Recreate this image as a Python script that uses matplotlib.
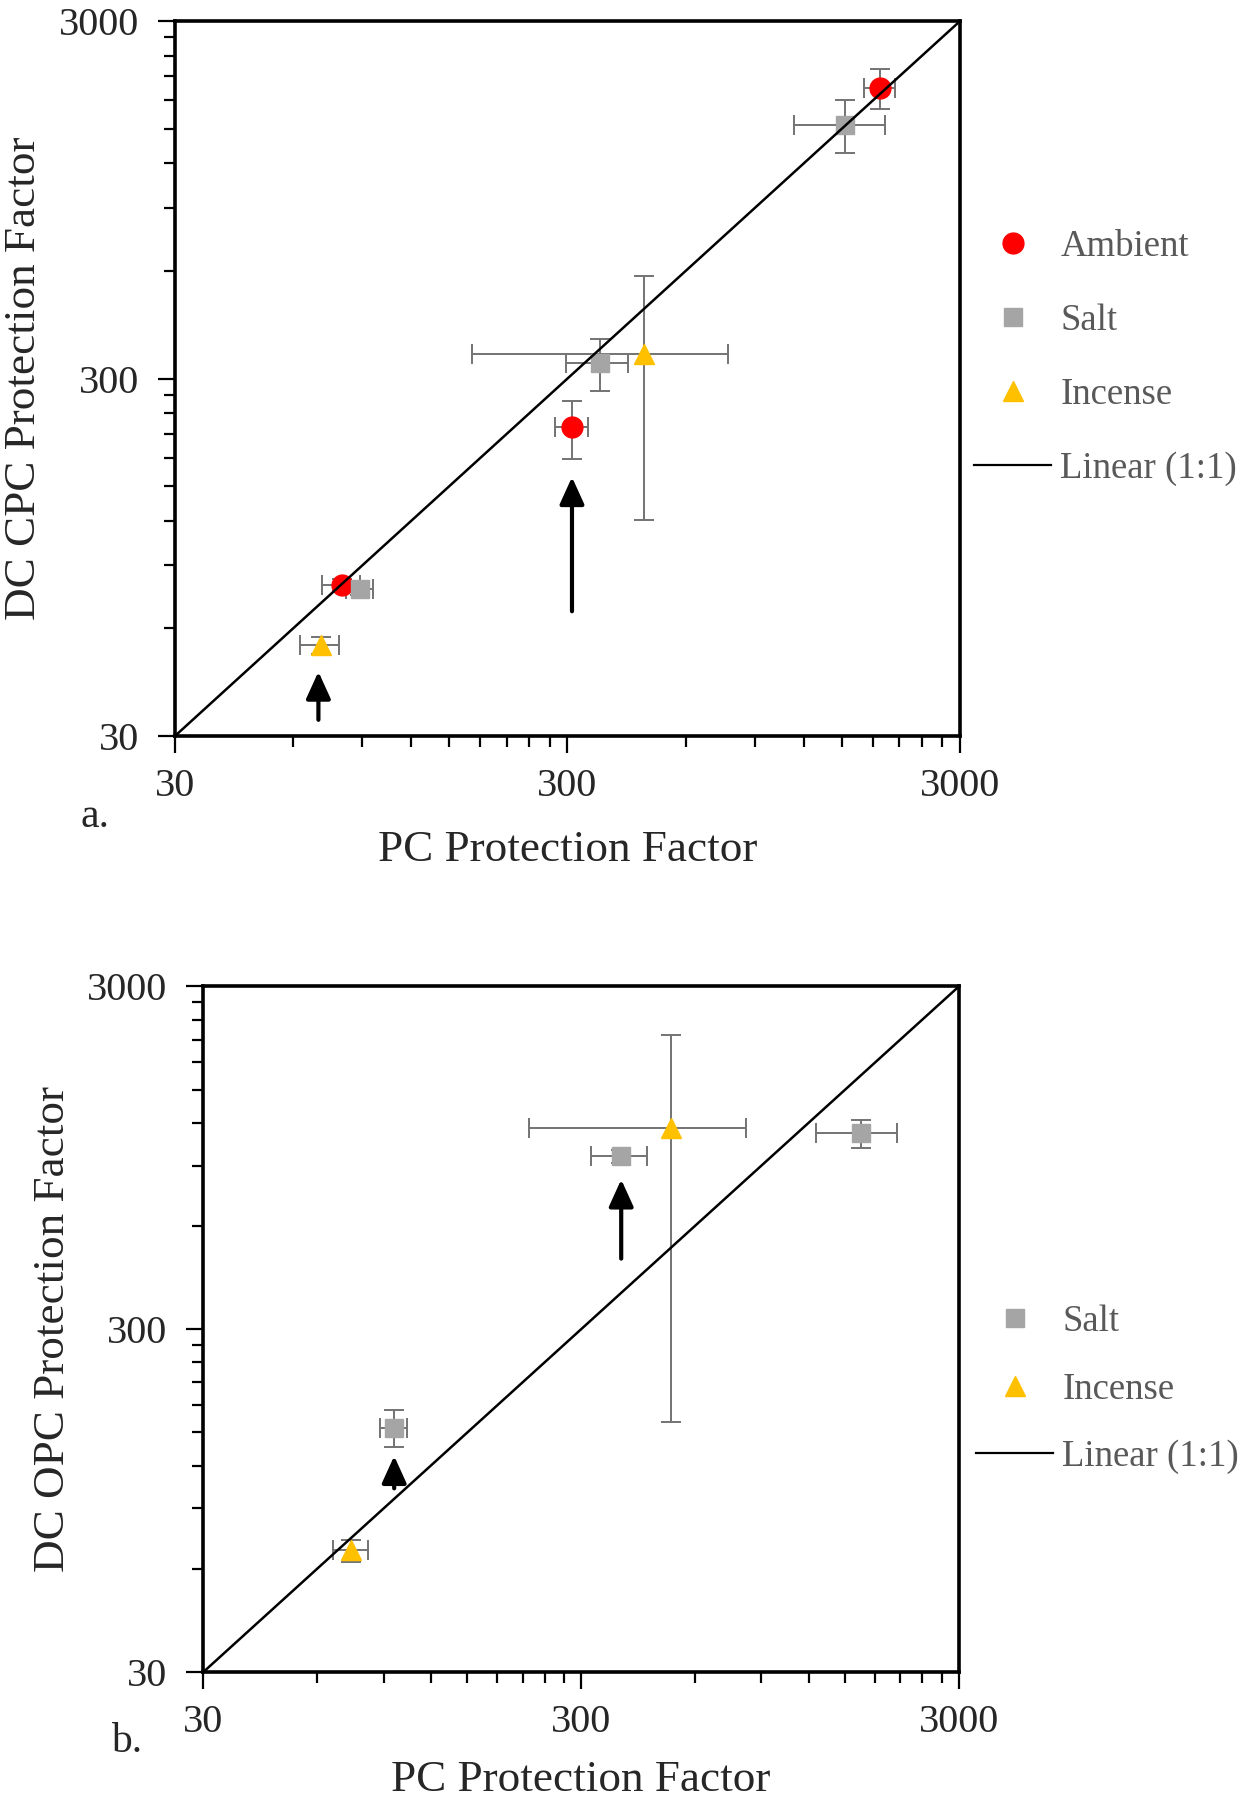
import matplotlib.pyplot as plt
from matplotlib.ticker import FixedLocator, FixedFormatter, NullFormatter
from matplotlib.lines import Line2D

plt.rcParams['font.family'] = ['Liberation Serif', 'DejaVu Serif']

# axis ticks (log axis, base 30)
MAJOR_TICKS = [30, 300, 3000]
MAJOR_LABELS = ['30', '300', '3000']
MINOR_TICKS = [60, 90, 120, 150, 180, 210, 240, 270,
               600, 900, 1200, 1500, 1800, 2100, 2400, 2700]
ONE_TO_ONE = [30, 3000]

# panel a: DC CPC vs PC
amb_a_x = [1880, 308, 80]
amb_a_y = [1950, 219, 79.5]
amb_a_xerr = [170, 30, 9]
amb_a_yerr = [250, 40, 3]

salt_a_x = [1530, 362, 88.7]
salt_a_y = [1540, 331, 77.3]
salt_a_xerr = [400, 65, 7]
salt_a_yerr = [260, 55, 3]

inc_a_x = [70.5, 471]
inc_a_y = [53.8, 351]
inc_a_xerr = [8, 300]
inc_a_yerr = [3, 230]

# arrows: x, y tail, y tip
arrows_a_x = [308, 69.6]
arrows_a_y0 = [67, 33.3]
arrows_a_y1 = [159, 45.4]

# panel b: DC OPC vs PC
salt_b_x = [1655, 383, 95.9]
salt_b_y = [1117, 958, 155]
salt_b_xerr = [400, 65, 8]
salt_b_yerr = [105, 40, 19]

inc_b_x = [74, 518]
inc_b_y = [68, 1161]
inc_b_xerr = [8, 300]
inc_b_yerr = [5, 1000]

arrows_b_x = [383, 96]
arrows_b_y0 = [482, 103]
arrows_b_y1 = [820, 128]

RED = '#ff0000'
GRAY = '#a5a5a5'
GOLD = '#ffc000'
ERR = '#737373'
TXT = '#262626'
LEG = '#595959'

STYLES = {
    'Ambient': dict(marker='o', color=RED, ms=15),
    'Salt': dict(marker='s', color=GRAY, ms=13),
    'Incense': dict(marker='^', color=GOLD, ms=15),
}


def setup_axes(ax, ylabel, xlab_y, ylab_x):
    ax.set_xscale('log')
    ax.set_yscale('log')
    ax.set_xlim(30, 3000)
    ax.set_ylim(30, 3000)
    for axis in (ax.xaxis, ax.yaxis):
        axis.set_major_locator(FixedLocator(MAJOR_TICKS))
        axis.set_major_formatter(FixedFormatter(MAJOR_LABELS))
        axis.set_minor_locator(FixedLocator(MINOR_TICKS))
        axis.set_minor_formatter(NullFormatter())
    for s in ax.spines.values():
        s.set_linewidth(2.6)
        s.set_color('black')
    ax.tick_params(which='both', direction='out', top=False, right=False,
                   width=1.6, colors='black', labelcolor=TXT, labelsize=29)
    ax.tick_params(which='major', length=12)
    ax.tick_params(which='minor', length=8)
    ax.tick_params(axis='x', which='major', pad=11)
    ax.tick_params(axis='y', which='major', pad=14)
    ax.set_xlabel('PC Protection Factor', fontsize=32.5, color=TXT, va='center')
    ax.xaxis.set_label_coords(0.5, xlab_y)
    ax.set_ylabel(ylabel, fontsize=32.5, color=TXT, va='center')
    ax.yaxis.set_label_coords(ylab_x, 0.5)


def draw_series(ax, name, x, y, xerr, yerr):
    ax.errorbar(x, y, xerr=xerr, yerr=yerr, fmt='none', ecolor=ERR,
                elinewidth=1.4, capsize=7, capthick=1.4, zorder=2)
    st = STYLES[name]
    ax.plot(x, y, linestyle='none', marker=st['marker'], color=st['color'],
            ms=st['ms'], mec=st['color'], zorder=3)


def draw_arrows(ax, xs, y0s, y1s):
    for x, y0, y1 in zip(xs, y0s, y1s):
        ax.annotate('', xy=(x, y1), xytext=(x, y0),
                    arrowprops=dict(arrowstyle='-|>,head_length=0.55,head_width=0.25',
                                    mutation_scale=30, lw=3, color='black',
                                    shrinkA=0, shrinkB=0),
                    zorder=5)


def add_legend(ax, fig, names, anchor, spacing):
    handles = []
    for n in names:
        st = STYLES[n]
        handles.append(Line2D([], [], linestyle='none', marker=st['marker'],
                              color=st['color'], ms=st['ms']))
    handles.append(Line2D([], [], color='black', lw=1.6))
    labels = list(names) + ['Linear (1:1)']
    ax.legend(handles, labels, loc='center left', bbox_to_anchor=anchor,
              bbox_transform=fig.transFigure, frameon=False, fontsize=26.5,
              labelcolor=LEG, handlelength=2.1, handletextpad=0.25,
              labelspacing=spacing, borderpad=0, borderaxespad=0)


fig = plt.figure(figsize=(12.46, 18), dpi=100)

# ---- panel a
ax1 = fig.add_axes([0.1404, 0.5911, 0.6301, 0.3972])
setup_axes(ax1, 'DC CPC Protection Factor', -0.159, -0.192)
draw_series(ax1, 'Ambient', amb_a_x, amb_a_y, amb_a_xerr, amb_a_yerr)
draw_series(ax1, 'Salt', salt_a_x, salt_a_y, salt_a_xerr, salt_a_yerr)
draw_series(ax1, 'Incense', inc_a_x, inc_a_y, inc_a_xerr, inc_a_yerr)
ax1.plot(ONE_TO_ONE, ONE_TO_ONE, color='black', lw=1.8, zorder=4)
draw_arrows(ax1, arrows_a_x, arrows_a_y0, arrows_a_y1)
add_legend(ax1, fig, ['Ambient', 'Salt', 'Incense'], (0.7817, 0.8014), 1.075)
fig.text(0.0764, 0.546, 'a.', fontsize=30, color=TXT, ha='center', va='center')

# ---- panel b
ax2 = fig.add_axes([0.1632, 0.0711, 0.6064, 0.3809])
setup_axes(ax2, 'DC OPC Protection Factor', -0.1575, -0.199)
draw_series(ax2, 'Salt', salt_b_x, salt_b_y, salt_b_xerr, salt_b_yerr)
draw_series(ax2, 'Incense', inc_b_x, inc_b_y, inc_b_xerr, inc_b_yerr)
ax2.plot(ONE_TO_ONE, ONE_TO_ONE, color='black', lw=1.8, zorder=4)
draw_arrows(ax2, arrows_b_x, arrows_b_y0, arrows_b_y1)
add_legend(ax2, fig, ['Salt', 'Incense'], (0.7833, 0.2281), 0.89)
fig.text(0.102, 0.0322, 'b.', fontsize=30, color=TXT, ha='center', va='center')

fig.savefig('out.png', dpi=100)
